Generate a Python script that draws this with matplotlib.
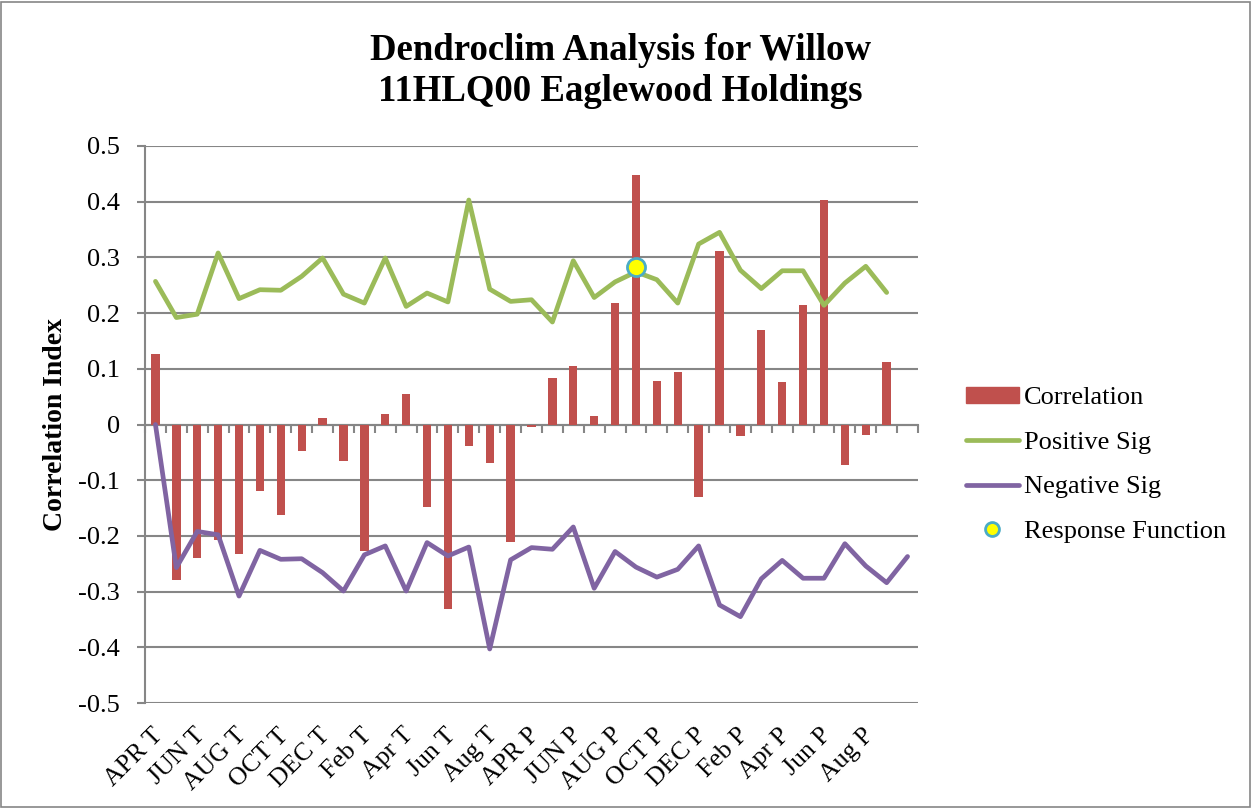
import matplotlib.pyplot as plt
import matplotlib.transforms as mtransforms
from matplotlib.patches import Rectangle
from matplotlib.lines import Line2D

# --- Data
categories = ["APR T", "MAY T", "JUN T", "JUL T", "AUG T", "SEP T", "OCT T", "NOV T", "DEC T",
              "Jan T", "Feb T", "Mar T", "Apr T", "May T", "Jun T", "Jul T", "Aug T", "Sep T",
              "APR P", "MAY P", "JUN P", "JUL P", "AUG P", "SEP P", "OCT P", "NOV P", "DEC P",
              "Jan P", "Feb P", "Mar P", "Apr P", "May P", "Jun P", "Jul P", "Aug P", "Sep P", ""]

correlation = [0.126, -0.280, -0.239, -0.208, -0.233, -0.120, -0.162, -0.048, 0.011,
               -0.065, -0.228, 0.018, 0.054, -0.148, -0.332, -0.038, -0.070, -0.211,
               -0.004, 0.084, 0.105, 0.015, 0.218, 0.448, 0.078, 0.095, -0.131,
               0.312, -0.021, 0.169, 0.076, 0.214, 0.403, -0.073, -0.019, 0.112]

positive_sig = [0.257, 0.192, 0.198, 0.308, 0.226, 0.242, 0.241, 0.266, 0.299,
                0.234, 0.218, 0.299, 0.212, 0.236, 0.220, 0.403, 0.243, 0.221,
                0.224, 0.184, 0.294, 0.228, 0.256, 0.274, 0.260, 0.218, 0.324,
                0.345, 0.277, 0.244, 0.276, 0.276, 0.214, 0.254, 0.284, 0.237]

negative_sig = [0.0, -0.257, -0.192, -0.198, -0.308, -0.226, -0.242, -0.241, -0.266,
                -0.299, -0.234, -0.218, -0.299, -0.212, -0.236, -0.220, -0.403, -0.243,
                -0.221, -0.224, -0.184, -0.294, -0.228, -0.256, -0.274, -0.260, -0.218,
                -0.324, -0.345, -0.277, -0.244, -0.276, -0.276, -0.214, -0.254, -0.284, -0.237]

response_cat = ["SEP P"]
response_val = [0.282]

yticks = [0.5, 0.4, 0.3, 0.2, 0.1, 0, -0.1, -0.2, -0.3, -0.4, -0.5]
ytick_labels = ["0.5", "0.4", "0.3", "0.2", "0.1", "0", "-0.1", "-0.2", "-0.3", "-0.4", "-0.5"]

# --- Style
plt.rcParams['font.family'] = ['Liberation Serif', 'DejaVu Serif']
bar_color = "#C0504D"
pos_color = "#9BBB59"
neg_color = "#8064A2"
grid_color = "#868686"

fig = plt.figure(figsize=(12.53, 8.09), dpi=100)
ax = fig.add_axes([145 / 1253, 1 - 703 / 809, (918 - 145) / 1253, (703 - 146) / 809])

x_bar = range(len(correlation))
x_pos = range(len(positive_sig))
x_neg = range(len(negative_sig))
x_resp = [categories.index(c) for c in response_cat]

ax.bar(x_bar, correlation, width=0.4, color=bar_color, zorder=3)
ax.plot(x_pos, positive_sig, color=pos_color, lw=3.4, solid_joinstyle='round',
        solid_capstyle='round', zorder=4)
ax.plot(x_neg, negative_sig, color=neg_color, lw=3.4, solid_joinstyle='round',
        solid_capstyle='round', zorder=4)
ax.plot(x_resp, response_val, ls='none', marker='o', ms=13, mfc='#FFFF00',
        mec='#4BACC6', mew=2, zorder=5)

# --- Axes
ax.set_xlim(-0.5, len(categories) - 0.5)
ax.set_ylim(-0.5, 0.5)
ax.set_yticks(yticks)
ax.set_yticklabels(ytick_labels, fontsize=19)
ax.yaxis.grid(True, color=grid_color, lw=1.5, zorder=0)
ax.tick_params(axis='y', length=6, width=1.5, color=grid_color, pad=12)

ax.spines['top'].set_visible(False)
ax.spines['right'].set_visible(False)
ax.spines['left'].set_color(grid_color)
ax.spines['left'].set_linewidth(1.5)
ax.spines['bottom'].set_position(('data', 0))
ax.spines['bottom'].set_color(grid_color)
ax.spines['bottom'].set_linewidth(1.5)
ax.spines['bottom'].set_zorder(2)
ax.set_xticks([i - 0.5 for i in range(len(categories) + 1)])
ax.set_xticklabels([])
ax.tick_params(axis='x', length=6, width=1.5, color=grid_color)

# category labels below the plot, every second one
trans = mtransforms.blended_transform_factory(ax.transData, ax.transAxes)
for i, lab in enumerate(categories):
    if i % 2 == 0 and lab:
        ax.text(i + 0.2, -0.052, lab, transform=trans, rotation=45, ha='right',
                va='center', rotation_mode='anchor', fontsize=18.5)

# --- Titles
fig.text(0.495, 0.912, "Dendroclim Analysis for Willow\n11HLQ00 Eaglewood Holdings",
         ha='center', va='center', fontsize=26.5, fontweight='bold', linespacing=1.2)
fig.text(0.044, 0.475, "Correlation Index", rotation=90, ha='center', va='center',
         fontsize=20, fontweight='bold')

# --- Legend
handles = [
    Rectangle((0, 0), 1, 1, color=bar_color),
    Line2D([], [], color=pos_color, lw=3.4, solid_capstyle='round'),
    Line2D([], [], color=neg_color, lw=3.4, solid_capstyle='round'),
    Line2D([], [], ls='none', marker='o', ms=10, mfc='#FFFF00', mec='#4BACC6', mew=2),
]
labels = ["Correlation", "Positive Sig", "Negative Sig", "Response Function"]
fig.legend(handles, labels, loc='center left', bbox_to_anchor=(966 / 1253, 1 - 465 / 809),
           frameon=False, fontsize=19, handlelength=2.0, handleheight=0.5,
           handletextpad=0.2, labelspacing=0.85, borderaxespad=0, borderpad=0)

# chart border
fig.patches.append(Rectangle((0.001, 0.002), 0.997, 0.996, transform=fig.transFigure,
                             fill=False, edgecolor=grid_color, lw=1.2))

fig.savefig("out.png", dpi=100)
